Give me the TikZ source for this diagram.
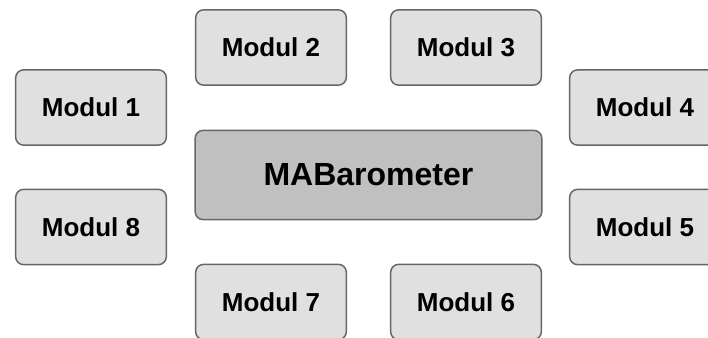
\documentclass[tikz,border=0pt]{standalone}
\usepackage{fontspec}
\setmainfont{Liberation Sans}
\definecolor{modfill}{RGB}{224,224,224}
\definecolor{mainfill}{RGB}{192,192,192}
\definecolor{modline}{RGB}{102,102,102}
\tikzset{
  modul/.style={draw=modline, fill=modfill, line width=1.1pt, rounded corners=6pt,
    minimum width=113pt, minimum height=56.5pt, inner sep=0pt, font=\fontsize{19.5}{23}\selectfont\bfseries},
  barometer/.style={modul, fill=mainfill, minimum width=260pt, minimum height=67pt,
    font=\fontsize{24}{28}\selectfont\bfseries}
}
\begin{document}
\begin{tikzpicture}[x=0.75pt,y=0.75pt,yscale=-1,xscale=1]
\clip (0,0) rectangle (708,337);

% center
\node [barometer] (mab) at (368.5,175) {MABarometer};

% upper row
\node [modul] (m1) at (91,107.5) {Modul 1};
\node [modul] (m2) at (271,47.5) {Modul 2};
\node [modul] (m3) at (466,47.5) {Modul 3};
\node [modul] (m4) at (645,107.5) {Modul 4};

% lower row
\node [modul] (m5) at (645,227) {Modul 5};
\node [modul] (m6) at (466,302) {Modul 6};
\node [modul] (m7) at (271,302) {Modul 7};
\node [modul] (m8) at (91,227) {Modul 8};

\end{tikzpicture}
\end{document}
